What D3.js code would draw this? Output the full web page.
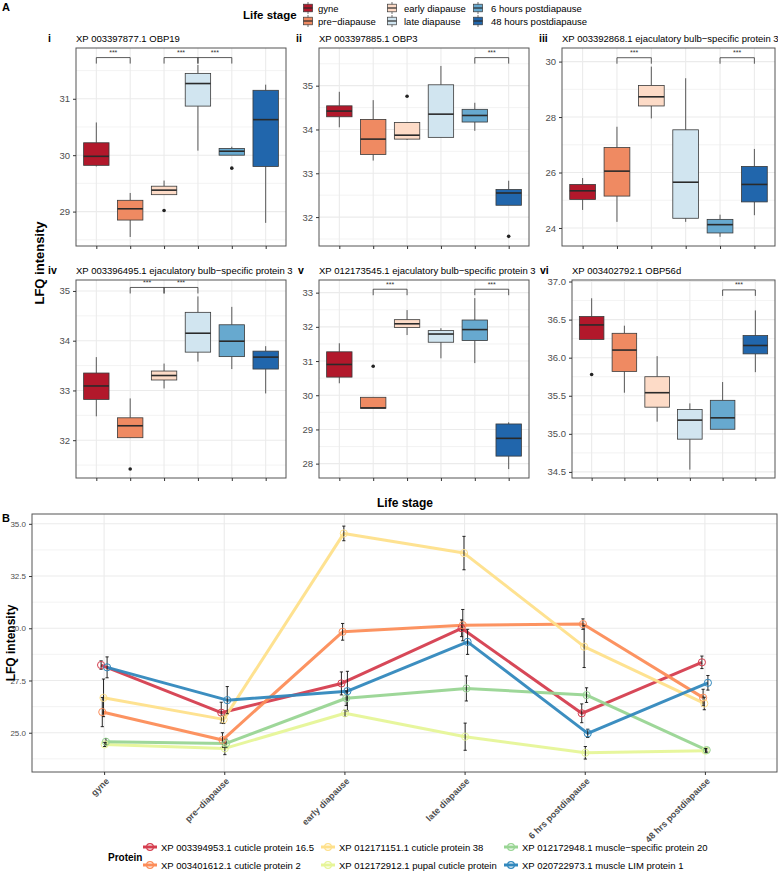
<!DOCTYPE html>
<html><head><meta charset="utf-8">
<script src="https://cdn.jsdelivr.net/npm/d3@7"></script>
<style>body{margin:0;background:#fff} svg{display:block;font-family:"Liberation Sans",Arial,Helvetica,sans-serif}</style>
</head><body><svg id="c" width="778" height="885"></svg>
<script>
// ---------- Data ----------
const stages = ["gyne","pre−diapause","early diapause","late diapause","6 hours postdiapause","48 hours postdiapause"];
const stageColors = ["#B2182B","#EF8A62","#FDDBC7","#D1E5F0","#67A9CF","#2166AC"];

// boxes: [lower whisker, Q1, median, Q3, upper whisker] per stage
const boxOBP19 = [[29.80,29.82,29.98,30.22,30.58],[28.55,28.85,29.05,29.20,29.33],[29.30,29.30,29.38,29.45,29.55],[30.08,30.87,31.27,31.45,31.60],[30.00,30.00,30.07,30.12,30.15],[28.80,29.80,30.63,31.15,31.25]];
const outOBP19 = [[2,29.02],[4,29.77]];
const sigOBP19 = [[0,1,31.73],[2,3,31.73],[3,4,31.73]];

const boxOBP3 = [[34.05,34.29,34.42,34.54,34.86],[33.29,33.43,33.78,34.23,34.67],[33.76,33.78,33.87,34.16,34.16],[33.82,33.82,34.35,35.02,35.45],[33.97,34.17,34.32,34.46,34.61],[32.27,32.27,32.55,32.63,32.83]];
const outOBP3 = [[2,34.76],[5,31.56]];
const sigOBP3 = [[4,5,35.64]];

const boxEBSP3a = [[24.65,25.03,25.34,25.57,25.80],[24.22,25.15,26.05,26.90,27.65],[27.95,28.40,28.73,29.14,29.82],[24.22,24.35,25.65,27.54,29.40],[23.68,23.82,24.12,24.31,24.48],[24.46,24.94,25.57,26.22,26.85]];
const outEBSP3a = [];
const sigEBSP3a = [[1,2,30.14],[4,5,30.14]];

const boxEBSP3b = [[32.48,32.82,33.09,33.35,33.67],[32.05,32.05,32.29,32.45,32.84],[33.04,33.21,33.30,33.39,33.54],[33.58,33.77,34.15,34.57,34.89],[33.43,33.68,33.99,34.32,34.68],[32.94,33.43,33.67,33.79,33.89]];
const outEBSP3b = [[1,31.42]];
const sigEBSP3b = [[1,2,35.07],[2,3,35.07]];

const boxEBSP3c = [[30.35,30.53,30.90,31.27,31.52],[29.62,29.62,29.63,29.94,29.94],[31.76,31.98,32.09,32.21,32.49],[31.08,31.55,31.79,31.89,31.96],[30.94,31.60,31.92,32.20,32.84],[27.84,28.22,28.74,29.16,29.21]];
const outEBSP3c = [[1,30.85]];
const sigEBSP3c = [[1,2,33.10],[4,5,33.10]];

const boxOBP56d = [[36.24,36.24,36.43,36.54,36.78],[35.54,35.82,36.10,36.32,36.42],[35.16,35.35,35.54,35.75,36.02],[34.53,34.93,35.18,35.32,35.40],[35.06,35.06,35.21,35.44,35.68],[35.81,36.05,36.16,36.29,36.62]];
const outOBP56d = [[0,35.78]];
const sigOBP56d = [[4,5,36.89]];

const panelTitles = ["XP 003397877.1 OBP19","XP 003397885.1 OBP3","XP 003392868.1 ejaculatory bulb−specific protein 3","XP 003396495.1 ejaculatory bulb−specific protein 3","XP 012173545.1 ejaculatory bulb−specific protein 3","XP 003402792.1 OBP56d"];
const panelTags = ["i","ii","iii","iv","v","vi"];
const ticksI = [29,30,31], ticksII = [32,33,34,35], ticksIII = [24,26,28,30], ticksIV = [32,33,34,35], ticksV = [28,29,30,31,32,33], ticksVI = [34.5,35.0,35.5,36.0,36.5,37.0];

// Panel B
const bStages = ["gyne","pre−diapause","early diapause","late diapause","6 hrs postdiapause","48 hrs postdiapause"];
const proteins = ["XP 003394953.1 cuticle protein 16.5","XP 003401612.1 cuticle protein 2","XP 012171151.1 cuticle protein 38","XP 012172912.1 pupal cuticle protein","XP 012172948.1 muscle−specific protein 20","XP 020722973.1 muscle LIM protein 1"];
const proteinColors = ["#D53E4F","#FC8D59","#FEE08B","#E6F598","#99D594","#3288BD"];
const meanCP165 = [28.24,25.96,27.36,30.00,25.93,28.37];
const seCP165   = [0.20,0.50,0.55,0.40,0.45,0.30];
const meanCP2   = [25.99,24.65,29.83,30.15,30.20,26.68];
const seCP2     = [0.70,0.35,0.40,0.75,0.25,0.40];
const meanCP38  = [26.67,25.64,34.54,33.60,29.12,26.40];
const seCP38    = [0.90,0.20,0.35,0.80,1.00,0.30];
const meanPupal = [24.44,24.25,25.93,24.81,24.04,24.14];
const sePupal   = [0.10,0.30,0.15,0.65,0.30,0.10];
const meanMSP20 = [24.57,24.49,26.65,27.12,26.80,24.17];
const seMSP20   = [0.15,0.20,0.35,0.60,0.35,0.10];
const meanLIM   = [28.13,26.56,26.99,29.35,24.97,27.39];
const seLIM     = [0.50,0.65,0.95,0.60,0.20,0.35];
const bTicks = [25.0,27.5,30.0,32.5,35.0];

// ---------- Drawing ----------
const svg = d3.select("#c");
svg.append("rect").attr("width",778).attr("height",885).attr("fill","#fff");
const GRID = "#EBEBEB", BORDER = "#555", TXT = "#4D4D4D";

function minorOf(ticks, dom){
  const s = ticks[1]-ticks[0];
  const out = [];
  for(let v = ticks[0]-s*0.5 - s*4; v <= ticks[ticks.length-1]+s*4; v += s){
    if(v>=dom[0] && v<=dom[1] && !ticks.some(t=>Math.abs(t-v)<1e-9)) out.push(v);
  }
  return out;
}

function boxPanel(p){
  const g = svg.append("g");
  const x = d3.scalePoint().domain(stages).range([p.x0,p.x1]).padding(0.6);
  const y = d3.scaleLinear().domain(p.domain).range([p.y1,p.y0]);
  const step = x.step(), bw = step*0.75;
  minorOf(p.ticks,p.domain).forEach(v=>g.append("line").attr("x1",p.x0).attr("x2",p.x1).attr("y1",y(v)).attr("y2",y(v)).attr("stroke",GRID).attr("stroke-width",0.6));
  p.ticks.forEach(v=>g.append("line").attr("x1",p.x0).attr("x2",p.x1).attr("y1",y(v)).attr("y2",y(v)).attr("stroke",GRID).attr("stroke-width",1.1));
  stages.forEach(s=>g.append("line").attr("x1",x(s)).attr("x2",x(s)).attr("y1",p.y0).attr("y2",p.y1).attr("stroke",GRID).attr("stroke-width",1.1));
  p.boxes.forEach((b,i)=>{
    const cx = x(stages[i]);
    g.append("line").attr("x1",cx).attr("x2",cx).attr("y1",y(b[0])).attr("y2",y(b[1])).attr("stroke","#333").attr("stroke-width",0.8);
    g.append("line").attr("x1",cx).attr("x2",cx).attr("y1",y(b[3])).attr("y2",y(b[4])).attr("stroke","#333").attr("stroke-width",0.8);
    g.append("rect").attr("x",cx-bw/2).attr("y",y(b[3])).attr("width",bw).attr("height",Math.max(0.5,y(b[1])-y(b[3])))
      .attr("fill",stageColors[i]).attr("stroke","#3a3a3a").attr("stroke-width",0.8);
    g.append("line").attr("x1",cx-bw/2).attr("x2",cx+bw/2).attr("y1",y(b[2])).attr("y2",y(b[2])).attr("stroke","#2a2a2a").attr("stroke-width",1.6);
  });
  p.outs.forEach(o=>g.append("circle").attr("cx",x(stages[o[0]])).attr("cy",y(o[1])).attr("r",1.8).attr("fill","#222"));
  p.sigs.forEach(s=>{
    const xa = x(stages[s[0]]), xb = x(stages[s[1]]), yy = y(s[2]);
    g.append("path").attr("d",`M${xa},${yy+6}V${yy}H${xb}V${yy+6}`).attr("fill","none").attr("stroke","#333").attr("stroke-width",0.8);
    g.append("text").attr("x",(xa+xb)/2).attr("y",yy-2.5).attr("text-anchor","middle").attr("font-size",7).attr("fill","#333").text("***");
  });
  g.append("rect").attr("x",p.x0).attr("y",p.y0).attr("width",p.x1-p.x0).attr("height",p.y1-p.y0).attr("fill","none").attr("stroke",BORDER).attr("stroke-width",1);
  const ay = g.append("g").attr("transform",`translate(${p.x0},0)`).call(d3.axisLeft(y).tickValues(p.ticks).tickSize(3).tickFormat(p.fmt));
  ay.select(".domain").remove();
  ay.selectAll("line").attr("stroke","#333");
  ay.selectAll("text").attr("fill",TXT).attr("font-size",9.5).attr("font-family","Liberation Sans, Arial, sans-serif");
  const ax = g.append("g").attr("transform",`translate(0,${p.y1})`).call(d3.axisBottom(x).tickSize(3).tickFormat(""));
  ax.select(".domain").remove();
  ax.selectAll("line").attr("stroke","#333");
  g.append("text").attr("x",p.tagX).attr("y",p.y0-6).attr("font-size",10.5).attr("font-weight","bold").text(p.tag);
  g.append("text").attr("x",p.x0).attr("y",p.y0-6).attr("font-size",9.5).text(p.title);
}

const R1 = [48,246], R2 = [280,478];
const fmt0 = d3.format("d"), fmt1 = d3.format(".1f");
boxPanel({x0:76,x1:286,y0:R1[0],y1:R1[1],domain:[28.39,31.90],ticks:ticksI,fmt:fmt0,boxes:boxOBP19,outs:outOBP19,sigs:sigOBP19,title:panelTitles[0],tag:panelTags[0],tagX:48});
boxPanel({x0:319,x1:529,y0:R1[0],y1:R1[1],domain:[31.34,35.86],ticks:ticksII,fmt:fmt0,boxes:boxOBP3,outs:outOBP3,sigs:sigOBP3,title:panelTitles[1],tag:panelTags[1],tagX:296});
boxPanel({x0:562,x1:775,y0:R1[0],y1:R1[1],domain:[23.35,30.49],ticks:ticksIII,fmt:fmt0,boxes:boxEBSP3a,outs:outEBSP3a,sigs:sigEBSP3a,title:panelTitles[2],tag:panelTags[2],tagX:539});
boxPanel({x0:76,x1:286,y0:R2[0],y1:R2[1],domain:[31.24,35.22],ticks:ticksIV,fmt:fmt0,boxes:boxEBSP3b,outs:outEBSP3b,sigs:sigEBSP3b,title:panelTitles[3],tag:panelTags[3],tagX:48});
boxPanel({x0:319,x1:529,y0:R2[0],y1:R2[1],domain:[27.58,33.37],ticks:ticksV,fmt:fmt0,boxes:boxEBSP3c,outs:outEBSP3c,sigs:sigEBSP3c,title:panelTitles[4],tag:panelTags[4],tagX:298});
boxPanel({x0:572,x1:775,y0:R2[0],y1:R2[1],domain:[34.42,37.02],ticks:ticksVI,fmt:fmt1,boxes:boxOBP56d,outs:outOBP56d,sigs:sigOBP56d,title:panelTitles[5],tag:panelTags[5],tagX:540});

svg.append("text").attr("x",2).attr("y",11).attr("font-size",11).attr("font-weight","bold").text("A");
svg.append("text").attr("transform","translate(44,263) rotate(-90)").attr("text-anchor","middle").attr("font-size",13).attr("font-weight","bold").text("LFQ intensity");

// top legend
svg.append("text").attr("x",243).attr("y",19).attr("font-size",11.5).attr("font-weight","bold").text("Life stage");
const legPos = [[308,318],[392,404],[478,491]];
stages.forEach((s,i)=>{
  const col = Math.floor(i/2), row = i%2;
  const cx = legPos[col][0], cy = row===0?8:21;
  const lg = svg.append("g");
  lg.append("line").attr("x1",cx).attr("x2",cx).attr("y1",cy-6).attr("y2",cy+6).attr("stroke","#333").attr("stroke-width",0.7);
  lg.append("rect").attr("x",cx-4.5).attr("y",cy-3.8).attr("width",9).attr("height",7.6).attr("fill",stageColors[i]).attr("stroke","#3a3a3a").attr("stroke-width",0.7);
  lg.append("line").attr("x1",cx-4.5).attr("x2",cx+4.5).attr("y1",cy).attr("y2",cy).attr("stroke","#2a2a2a").attr("stroke-width",1.2);
  lg.append("text").attr("x",legPos[col][1]).attr("y",cy+3.5).attr("font-size",9.5).text(s);
});

// ---------- Panel B ----------
const B = {x0:32,x1:777,y0:514,y1:772};
const xB = d3.scalePoint().domain(bStages).range([B.x0,B.x1]).padding(0.6);
const yB = d3.scaleLinear().domain([23.12,35.47]).range([B.y1,B.y0]);
const gB = svg.append("g");
minorOf(bTicks,yB.domain()).forEach(v=>gB.append("line").attr("x1",B.x0).attr("x2",B.x1).attr("y1",yB(v)).attr("y2",yB(v)).attr("stroke",GRID).attr("stroke-width",0.6));
bTicks.forEach(v=>gB.append("line").attr("x1",B.x0).attr("x2",B.x1).attr("y1",yB(v)).attr("y2",yB(v)).attr("stroke",GRID).attr("stroke-width",1.1));
bStages.forEach(s=>gB.append("line").attr("x1",xB(s)).attr("x2",xB(s)).attr("y1",B.y0).attr("y2",B.y1).attr("stroke",GRID).attr("stroke-width",1.1));

const means = [meanCP165,meanCP2,meanCP38,meanPupal,meanMSP20,meanLIM];
const ses = [seCP165,seCP2,seCP38,sePupal,seMSP20,seLIM];
const dodge = i => (i-2.5)*1.2;
const line = d3.line();
means.forEach((m,k)=>{
  const pts = m.map((v,i)=>[xB(bStages[i])+dodge(k), yB(v)]);
  gB.append("path").attr("d",line(pts)).attr("fill","none").attr("stroke",proteinColors[k]).attr("stroke-width",3).attr("stroke-opacity",0.95).attr("stroke-linejoin","round");
});
means.forEach((m,k)=>{
  m.forEach((v,i)=>{
    const cx = xB(bStages[i])+dodge(k), lo = yB(v-ses[k][i]), hi = yB(v+ses[k][i]);
    gB.append("path").attr("d",`M${cx-1.6},${lo}H${cx+1.6}M${cx},${lo}V${hi}M${cx-1.6},${hi}H${cx+1.6}`).attr("stroke","#111").attr("stroke-width",0.9).attr("fill","none");
  });
});
means.forEach((m,k)=>{
  m.forEach((v,i)=>{
    gB.append("circle").attr("cx",xB(bStages[i])+dodge(k)).attr("cy",yB(v)).attr("r",3.6).attr("fill","none").attr("stroke",proteinColors[k]).attr("stroke-width",1);
  });
});
gB.append("rect").attr("x",B.x0).attr("y",B.y0).attr("width",B.x1-B.x0).attr("height",B.y1-B.y0).attr("fill","none").attr("stroke",BORDER).attr("stroke-width",1);
const ayB = gB.append("g").attr("transform",`translate(${B.x0},0)`).call(d3.axisLeft(yB).tickValues(bTicks).tickSize(3).tickFormat(d3.format(".1f")));
ayB.select(".domain").remove();
ayB.selectAll("line").attr("stroke","#333");
ayB.selectAll("text").attr("fill",TXT).attr("font-size",8).attr("font-family","Liberation Sans, Arial, sans-serif");
const axB = gB.append("g").attr("transform",`translate(0,${B.y1})`).call(d3.axisBottom(xB).tickSize(3).tickFormat(""));
axB.select(".domain").remove();
axB.selectAll("line").attr("stroke","#333");
bStages.forEach(s=>{
  gB.append("text").attr("transform",`translate(${xB(s)+1},${B.y1+5}) rotate(-45)`).attr("text-anchor","end").attr("dy","0.72em")
    .attr("font-size",9).attr("font-weight","bold").attr("fill",TXT).text(s);
});
svg.append("text").attr("x",2).attr("y",522).attr("font-size",11).attr("font-weight","bold").text("B");
svg.append("text").attr("x",405).attr("y",507).attr("text-anchor","middle").attr("font-size",12).attr("font-weight","bold").text("Life stage");
svg.append("text").attr("transform","translate(15,643) rotate(-90)").attr("text-anchor","middle").attr("font-size",12).attr("font-weight","bold").text("LFQ intensity");

// bottom legend
svg.append("text").attr("x",108).attr("y",861).attr("font-size",10).attr("font-weight","bold").text("Protein");
const bLeg = [[150,161],[328,339],[511,522]];
proteins.forEach((p,i)=>{
  const col = Math.floor(i/2), row = i%2;
  const cx = bLeg[col][0], cy = row===0?847:865;
  svg.append("line").attr("x1",cx-7).attr("x2",cx+7).attr("y1",cy).attr("y2",cy).attr("stroke",proteinColors[i]).attr("stroke-width",3);
  svg.append("circle").attr("cx",cx).attr("cy",cy).attr("r",3.4).attr("fill","none").attr("stroke",proteinColors[i]).attr("stroke-width",1.2);
  svg.append("text").attr("x",bLeg[col][1]).attr("y",cy+3.5).attr("font-size",9.5).text(p);
});
</script></body></html>
